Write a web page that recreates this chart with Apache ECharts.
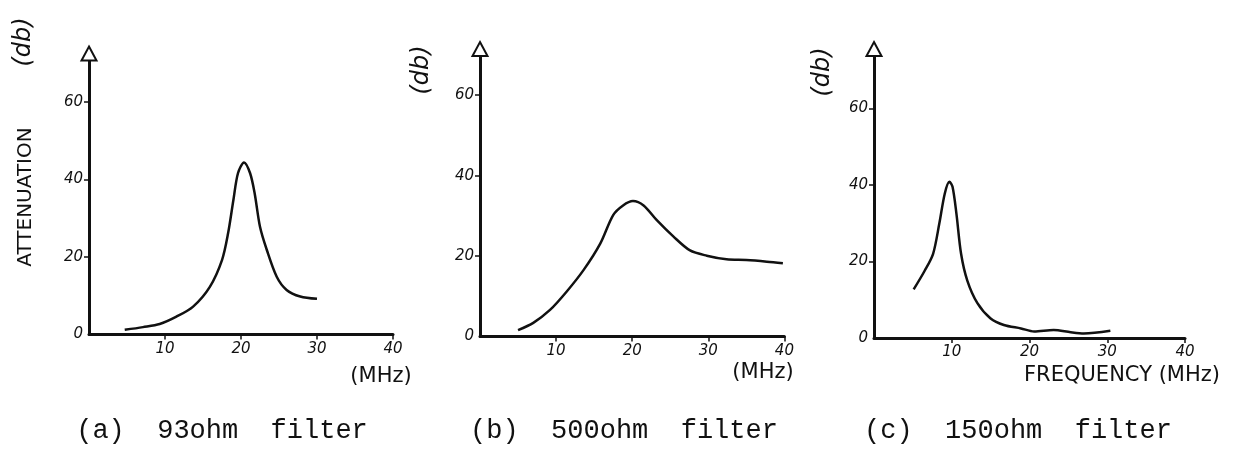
<!DOCTYPE html>
<html>
<head>
<meta charset="utf-8">
<script src="https://cdn.jsdelivr.net/npm/echarts@6/dist/echarts.min.js"></script>
<style>
html, body { margin: 0; padding: 0; background: #fff; }
#main { width: 1253px; height: 454px; }
</style>
</head>
<body>
<div id="main"></div>
<script>
// values: frequency (MHz) / attenuation (db)
var freqA = [4.7, 7.1, 9.3, 11.5, 13.7, 15.9, 17.5, 18.3, 19.0, 19.6, 20.4, 21.2, 21.8, 22.5, 23.4, 24.7, 26.0, 27.8, 30.0];
var attA  = [1.2, 1.9, 2.7, 4.6, 7.2, 12.3, 19.2, 26.1, 34.7, 41.6, 44.4, 41.6, 36.4, 27.8, 21.8, 14.9, 11.5, 9.8, 9.2];

var freqB = [5.0, 7.0, 9.2, 11.4, 13.6, 15.8, 17.5, 18.8, 20.1, 21.5, 23.2, 25.4, 27.6, 29.8, 32.4, 35.0, 37.7, 39.8];
var attB  = [1.6, 3.4, 6.6, 11.2, 16.5, 23.1, 30.2, 32.6, 33.7, 32.6, 29.0, 24.9, 21.4, 20.1, 19.2, 19.0, 18.6, 18.2];

var freqC = [5.1, 6.5, 7.6, 8.4, 9.1, 9.7, 10.1, 10.6, 11.2, 12.0, 13.3, 15.0, 16.7, 18.9, 20.6, 23.1, 25.3, 27.0, 30.4];
var attC  = [12.7, 17.5, 22.0, 29.9, 37.7, 40.8, 39.5, 32.5, 22.0, 15.0, 9.1, 5.1, 3.4, 2.5, 1.7, 2.1, 1.5, 1.2, 1.9];

var yTickValues = [0, 20, 40, 60];
var xTickValues = [10, 20, 30, 40];
var captions = ['(a)  93ohm  filter', '(b)  500ohm  filter', '(c)  150ohm  filter'];
var xNames = ['(MHz)', '(MHz)', 'FREQUENCY (MHz)'];

function pairs(xs, ys) {
    var out = [];
    for (var i = 0; i < xs.length; i++) out.push([xs[i], ys[i]]);
    return out;
}

var ink = '#111';
var handFont = { color: ink, fontFamily: 'DejaVu Sans', fontStyle: 'italic', fontSize: 15 };

// panel boxes
var grids = [
    { left: 89, top: 53.5, width: 304, height: 281 },
    { left: 480, top: 49, width: 304.4, height: 287.5 },
    { left: 874, top: 49, width: 311, height: 289 }
];
var yMax = [72.5, 71.5, 75.5];

var xAxes = [], yAxes = [];
for (var i = 0; i < 3; i++) {
    xAxes.push({
        gridIndex: i, type: 'value', min: 0, max: 40, interval: 10,
        splitLine: { show: false },
        axisLine: { show: true, lineStyle: { color: ink, width: 3 } },
        axisTick: { show: true, length: 5, inside: false, customValues: xTickValues, lineStyle: { color: ink, width: 1.5 } },
        axisLabel: Object.assign({ margin: 7, customValues: xTickValues }, handFont)
    });
    yAxes.push({
        gridIndex: i, type: 'value', min: 0, max: yMax[i],
        splitLine: { show: false },
        axisLine: {
            show: true, onZero: false,
            symbol: ['none', 'emptyTriangle'], symbolSize: [15, 14],
            lineStyle: { color: ink, width: 3 }
        },
        axisTick: { show: true, length: 5, customValues: [20, 40, 60], lineStyle: { color: ink, width: 1.5 } },
        axisLabel: Object.assign({ margin: 6, customValues: yTickValues }, handFont)
    });
}

var curves = [pairs(freqA, attA), pairs(freqB, attB), pairs(freqC, attC)];
var series = curves.map(function (d, i) {
    return {
        type: 'line', xAxisIndex: i, yAxisIndex: i, data: d,
        smooth: 0.3, showSymbol: false, silent: true,
        lineStyle: { color: ink, width: 2.5 }
    };
});

var graphics = [
    { type: 'text', x: 26, y: 197, rotation: Math.PI / 2,
      style: { text: 'ATTENUATION', fill: ink, font: '20px "DejaVu Sans"', align: 'center', verticalAlign: 'middle' } }
];
[[24, 42], [422, 70], [823, 72]].forEach(function (p) {
    graphics.push({ type: 'text', x: p[0], y: p[1], rotation: Math.PI / 2,
        style: { text: '(db)', fill: ink, font: 'italic 24px "DejaVu Sans"', align: 'center', verticalAlign: 'middle' } });
});
[[381, 377], [763, 373], [1122, 376]].forEach(function (p, i) {
    graphics.push({ type: 'text', x: p[0], y: p[1],
        style: { text: xNames[i], fill: ink, font: '21px "DejaVu Sans"', align: 'center', verticalAlign: 'middle' } });
});
[[222, 431], [624, 431], [1018, 431]].forEach(function (p, i) {
    graphics.push({ type: 'text', x: p[0], y: p[1],
        style: { text: captions[i], fill: ink, font: '27px "Liberation Mono"', align: 'center', verticalAlign: 'middle' } });
});

var myChart = echarts.init(document.getElementById('main'));
var option = {
    backgroundColor: '#fff',
    animation: false,
    grid: grids,
    xAxis: xAxes,
    yAxis: yAxes,
    series: series,
    graphic: graphics
};
myChart.setOption(option);
</script>
</body>
</html>
